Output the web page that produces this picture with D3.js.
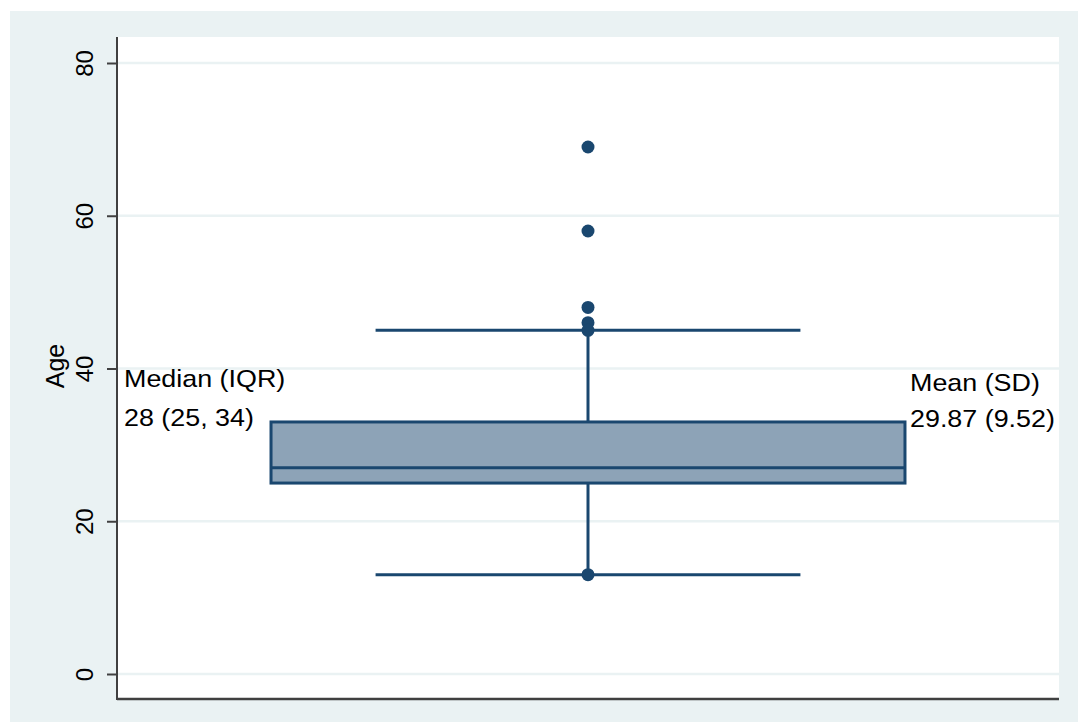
<!DOCTYPE html>
<html>
<head>
<meta charset="utf-8">
<script src="https://cdn.jsdelivr.net/npm/d3@7"></script>
<style>
  html, body { margin: 0; padding: 0; background: #ffffff; }
  svg { display: block; font-family: "Liberation Sans", Arial, sans-serif; }
</style>
</head>
<body>
<svg id="chart" width="1078" height="722"></svg>
<script>
// ---- Data ----
const yTicks = [0, 20, 40, 60, 80];
const boxStats = { q1: 25, median: 27, q3: 33, lowerWhisker: 13, upperWhisker: 45 };
const points = [69, 58, 48, 46, 45, 13];
const yLabel = "Age";
const leftNote = ["Median (IQR)", "28 (25, 34)"];
const rightNote = ["Mean (SD)", "29.87 (9.52)"];

// ---- Layout ----
const W = 1078, H = 722;
const outer = { x: 10, y: 11 };
const plot = { left: 117, right: 1059, top: 37, bottom: 699 };
const navy = "#1a476f";
const boxFill = "#8da3b7";
const bgColor = "#eaf2f3";
const axisColor = "#404040";

const svg = d3.select("#chart");

svg.append("rect").attr("x", outer.x).attr("y", outer.y)
  .attr("width", W - outer.x).attr("height", H - outer.y).attr("fill", bgColor);
svg.append("rect").attr("x", plot.left).attr("y", plot.top)
  .attr("width", plot.right - plot.left).attr("height", plot.bottom - plot.top).attr("fill", "#ffffff");

const y = d3.scaleLinear().domain([0, 80]).range([674, 63]);
const x = d3.scaleLinear().domain([0, 1]).range([plot.left, plot.right]);
const cx = x(0.5);
const boxHalf = (x(1) - x(0)) * 0.3365;
const capHalf = (x(1) - x(0)) * 0.2255;

// gridlines
svg.append("g").selectAll("line").data(yTicks).join("line")
  .attr("x1", plot.left).attr("x2", plot.right)
  .attr("y1", d => y(d)).attr("y2", d => y(d))
  .attr("stroke", bgColor).attr("stroke-width", 2.5);

// whiskers
const g = svg.append("g");
g.append("line").attr("x1", cx).attr("x2", cx)
  .attr("y1", y(boxStats.q3)).attr("y2", y(boxStats.upperWhisker))
  .attr("stroke", navy).attr("stroke-width", 3);
g.append("line").attr("x1", cx).attr("x2", cx)
  .attr("y1", y(boxStats.q1)).attr("y2", y(boxStats.lowerWhisker))
  .attr("stroke", navy).attr("stroke-width", 3);
[boxStats.upperWhisker, boxStats.lowerWhisker].forEach(v => {
  g.append("line").attr("x1", cx - capHalf).attr("x2", cx + capHalf)
    .attr("y1", y(v)).attr("y2", y(v))
    .attr("stroke", navy).attr("stroke-width", 3);
});

// box
g.append("rect").attr("x", cx - boxHalf).attr("y", y(boxStats.q3))
  .attr("width", 2 * boxHalf).attr("height", y(boxStats.q1) - y(boxStats.q3))
  .attr("fill", boxFill).attr("stroke", navy).attr("stroke-width", 3);
g.append("line").attr("x1", cx - boxHalf).attr("x2", cx + boxHalf)
  .attr("y1", y(boxStats.median)).attr("y2", y(boxStats.median))
  .attr("stroke", navy).attr("stroke-width", 3);

// points
g.selectAll("circle").data(points).join("circle")
  .attr("cx", cx).attr("cy", d => y(d)).attr("r", 6.5).attr("fill", navy);

// y axis
const yAxis = d3.axisLeft(y).tickValues(yTicks).tickSize(10).tickPadding(0);
const ax = svg.append("g").attr("transform", `translate(${plot.left},0)`).call(yAxis);
ax.select(".domain").remove();
ax.selectAll(".tick line").attr("stroke", axisColor).attr("stroke-width", 2);
ax.selectAll(".tick text")
  .attr("x", 0).attr("y", 0).attr("dy", null)
  .attr("transform", "translate(-24,0) rotate(-90)")
  .attr("text-anchor", "middle")
  .attr("font-size", 24).attr("fill", "#000")
  .attr("font-family", "Liberation Sans, Arial, sans-serif");

// axis lines
svg.append("line").attr("x1", plot.left).attr("x2", plot.left)
  .attr("y1", plot.top).attr("y2", plot.bottom + 1)
  .attr("stroke", axisColor).attr("stroke-width", 2);
svg.append("line").attr("x1", plot.left).attr("x2", plot.right)
  .attr("y1", plot.bottom).attr("y2", plot.bottom)
  .attr("stroke", axisColor).attr("stroke-width", 2.5);

// y label
svg.append("text").attr("transform", `translate(64,366) rotate(-90)`)
  .attr("text-anchor", "middle").attr("font-size", 25).attr("fill", "#000")
  .text(yLabel);

// annotations
function note(lines, x0, ys) {
  lines.forEach((t, i) => {
    svg.append("text")
      .attr("transform", `translate(${x0},${ys[i]}) scale(1.12,1)`)
      .attr("font-size", 24).attr("fill", "#000")
      .text(t);
  });
}
note(leftNote, 124, [387, 426]);
note(rightNote, 910, [391, 427]);
</script>
</body>
</html>
